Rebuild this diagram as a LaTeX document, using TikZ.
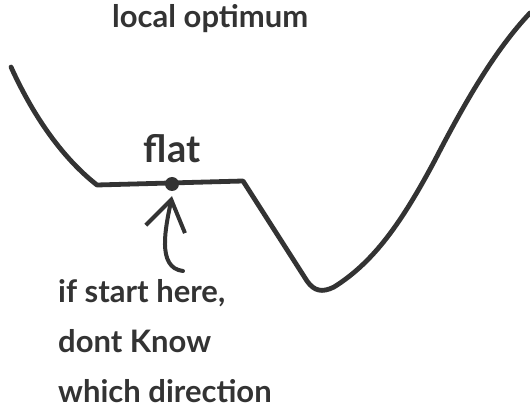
\documentclass[tikz,border=0pt]{standalone}
\usepackage{fontspec}
\setmainfont{Lato}
\usetikzlibrary{arrows.meta, positioning}

\definecolor{ink}{HTML}{333333}

\begin{document}
\begin{tikzpicture}[x=1pt, y=-1pt,
    curve/.style={draw=ink, line width=4.8pt, line cap=round, line join=round},
    hand/.style={font=\fontsize{31}{50}\selectfont\bfseries, text=ink, inner sep=0pt},
    marker/.style={circle, fill=ink, minimum size=14pt, inner sep=0pt},
    pointer/.style={draw=ink, line width=4pt, line cap=round,
                    -{Straight Barb[length=30pt, width=40pt, line width=4pt]}}
]
    \useasboundingbox (0,0) rectangle (530,419);

    % landscape
    \draw[curve] (11,67) .. controls (35,120) and (65,160) .. (97,185)
        -- (243,181) -- (307,281)
        .. controls (314,291) and (322,293) .. (334,287)
        .. controls (374,262) and (402,222) .. (435,160)
        .. controls (465,102) and (495,50) .. (530,13);

    \node[hand, anchor=base west]                (title) at (112,28) {local optimum};
    \node[marker]                                (dot)   at (172,184) {};
    \node[hand, font=\fontsize{38}{40}\selectfont\bfseries, above=14pt of dot] (flatlbl) {flat};
    \node[hand, align=left, anchor=north west]   (note)  at (58,279)
        {if start here,\\dont Know\\which direction};

    \coordinate[above=8pt of note.north west, xshift=125pt] (foot);
    \draw[pointer] (foot) .. controls (156,268) and (166,226) .. ([yshift=-5pt]dot.south);
\end{tikzpicture}
\end{document}
